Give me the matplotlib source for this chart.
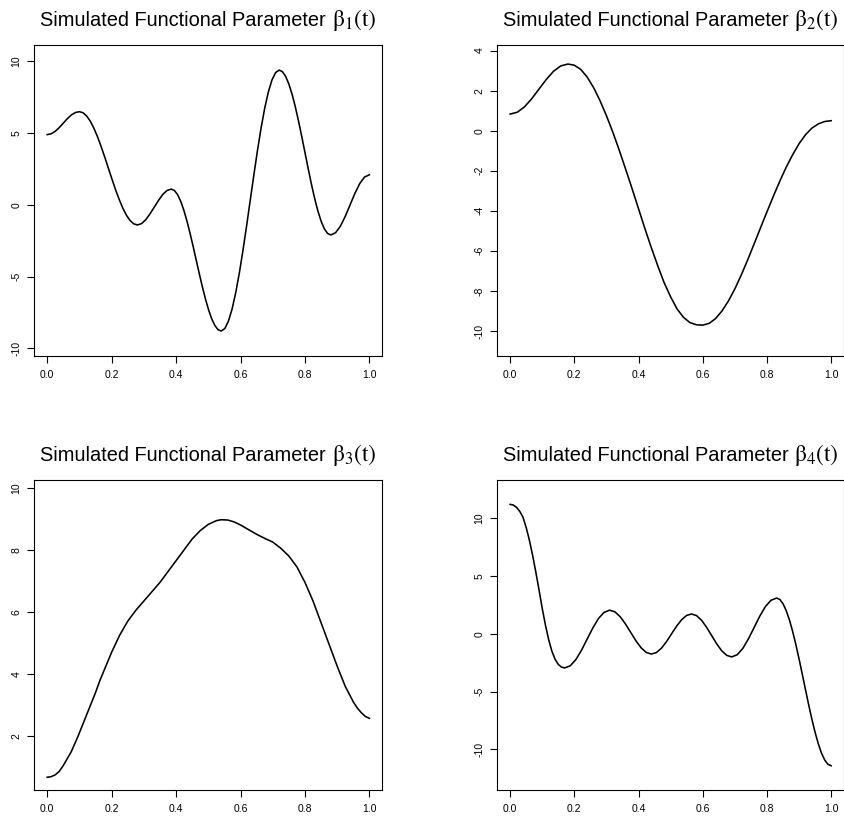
import matplotlib
matplotlib.use("Agg")
import matplotlib.pyplot as plt
from matplotlib.offsetbox import TextArea, HPacker, AnchoredOffsetbox

plt.rcParams['font.family'] = ['Liberation Sans', 'DejaVu Sans']
plt.rcParams['mathtext.fontset'] = 'stix'

# ---------------- data ----------------
t1 = [0, 0.0125, 0.025, 0.0375, 0.05, 0.0625, 0.075, 0.0875, 0.1,
      0.1113, 0.1225, 0.1338, 0.145, 0.1563, 0.1675, 0.1788, 0.19,
      0.2013, 0.2125, 0.2238, 0.235, 0.2463, 0.2575, 0.2688, 0.28,
      0.293, 0.306, 0.319, 0.3325, 0.346, 0.359, 0.372, 0.385,
      0.3947, 0.4044, 0.4141, 0.4238, 0.4334, 0.4431, 0.4528, 0.4625,
      0.4722, 0.4819, 0.4916, 0.5013, 0.5109, 0.5206, 0.5303, 0.54,
      0.5513, 0.5625, 0.5738, 0.585, 0.5963, 0.6075, 0.6188, 0.63,
      0.6413, 0.6525, 0.6638, 0.675, 0.6863, 0.6975, 0.7088, 0.72,
      0.73, 0.74, 0.75, 0.76, 0.77, 0.78, 0.79, 0.80,
      0.81, 0.82, 0.83, 0.84, 0.85, 0.86, 0.87, 0.88,
      0.895, 0.91, 0.925, 0.94, 0.955, 0.97, 0.985, 1.0]
b1 = [4.9, 4.96, 5.13, 5.39, 5.70, 6.01, 6.27, 6.44, 6.5,
      6.424, 6.199, 5.834, 5.343, 4.745, 4.061, 3.320, 2.55,
      1.780, 1.039, 0.355, -0.243, -0.734, -1.099, -1.324, -1.4,
      -1.305, -1.035, -0.628, -0.15, 0.328, 0.735, 1.005, 1.1,
      1.005, 0.723, 0.265, -0.349, -1.100, -1.956, -2.885, -3.85,
      -4.815, -5.744, -6.600, -7.351, -7.965, -8.423, -8.705, -8.8,
      -8.625, -8.107, -7.266, -6.136, -4.756, -3.182, -1.475, 0.3,
      2.075, 3.782, 5.356, 6.736, 7.866, 8.707, 9.225, 9.4,
      9.290, 8.962, 8.431, 7.717, 6.845, 5.850, 4.771, 3.65,
      2.529, 1.450, 0.455, -0.416, -1.131, -1.662, -1.990, -2.1,
      -1.94, -1.487, -0.802, 0.0, 0.802, 1.487, 1.94, 2.1]

t2 = [0, 0.0225, 0.045, 0.0675, 0.09, 0.1125, 0.135, 0.1575, 0.18,
      0.20, 0.22, 0.24, 0.26, 0.28, 0.30, 0.32, 0.34, 0.36, 0.38, 0.40,
      0.42, 0.44, 0.46, 0.48, 0.50, 0.52, 0.54, 0.56, 0.58, 0.60,
      0.62, 0.64, 0.66, 0.68, 0.70, 0.72, 0.74, 0.76, 0.78, 0.80,
      0.82, 0.84, 0.86, 0.88, 0.90, 0.92, 0.94, 0.96, 0.98, 1.0]
b2 = [0.83, 0.925, 1.195, 1.603, 2.08, 2.558, 2.965, 3.235, 3.33,
      3.27, 3.06, 2.68, 2.15, 1.50, 0.75, -0.08, -0.98, -1.93, -2.9, -3.9,
      -4.9, -5.85, -6.75, -7.6, -8.3, -8.9, -9.32, -9.58, -9.69, -9.71,
      -9.62, -9.38, -9.0, -8.5, -7.9, -7.2, -6.45, -5.65, -4.85, -4.05,
      -3.27, -2.52, -1.82, -1.2, -0.65, -0.2, 0.13, 0.34, 0.46, 0.5]

t3 = [0, 0.0125, 0.025, 0.0375, 0.05, 0.075, 0.096, 0.125, 0.15, 0.164, 0.2,
      0.225, 0.25, 0.275, 0.3, 0.325, 0.35, 0.375, 0.4, 0.425, 0.45, 0.475,
      0.5, 0.525, 0.54, 0.56, 0.58, 0.6, 0.625, 0.65, 0.675, 0.7, 0.725,
      0.75, 0.775, 0.8, 0.825, 0.85, 0.875, 0.9, 0.925, 0.95, 0.9625,
      0.975, 0.9875, 1.0]
b3 = [0.67, 0.69, 0.75, 0.86, 1.05, 1.5, 2.0, 2.75, 3.4, 3.8, 4.7,
      5.25, 5.7, 6.05, 6.35, 6.65, 6.95, 7.3, 7.65, 8.0, 8.35, 8.62,
      8.82, 8.94, 8.97, 8.96, 8.9, 8.8, 8.65, 8.5, 8.37, 8.25, 8.05,
      7.8, 7.45, 6.95, 6.35, 5.65, 4.95, 4.25, 3.6, 3.1, 2.9,
      2.75, 2.63, 2.57]

t4 = [0, 0.01, 0.02, 0.03, 0.04, 0.05, 0.06, 0.07, 0.08, 0.09,
      0.10, 0.11, 0.12, 0.13, 0.14, 0.15, 0.16, 0.17,
      0.1875, 0.205, 0.2225, 0.24, 0.2575, 0.275, 0.2925, 0.31,
      0.3263, 0.3425, 0.3588, 0.375, 0.3913, 0.4075, 0.4238, 0.44,
      0.4556, 0.4713, 0.4869, 0.5025, 0.5181, 0.5338, 0.5494, 0.565,
      0.5806, 0.5963, 0.6119, 0.6275, 0.6431, 0.6588, 0.6744, 0.69,
      0.7075, 0.725, 0.7425, 0.76, 0.7775, 0.795, 0.8125, 0.83,
      0.84, 0.85, 0.86, 0.87, 0.88, 0.89, 0.90, 0.91, 0.92,
      0.93, 0.94, 0.95, 0.96, 0.97, 0.98, 0.99, 1.0]
b4 = [11.21, 11.15, 10.95, 10.6, 10.1, 9.2, 8.1, 6.8, 5.35, 3.8,
      2.2, 0.75, -0.5, -1.5, -2.2, -2.65, -2.88, -2.95,
      -2.76, -2.22, -1.405, -0.45, 0.505, 1.32, 1.86, 2.05,
      1.906, 1.495, 0.876, 0.15, -0.576, -1.195, -1.606, -1.75,
      -1.618, -1.243, -0.678, -0.015, 0.648, 1.213, 1.588, 1.72,
      1.579, 1.177, 0.571, -0.14, -0.851, -1.457, -1.859, -2.0,
      -1.806, -1.255, -0.424, 0.55, 1.524, 2.355, 2.906, 3.1,
      2.977, 2.609, 2.012, 1.205, 0.215, -0.924, -2.174, -3.491, -4.830,
      -6.146, -7.397, -8.535, -9.525, -10.333, -10.929, -11.297, -11.42]

title_text = 'Simulated Functional Parameter '
title_math = [r'$\mathrm{\beta_1(t)}$', r'$\mathrm{\beta_2(t)}$',
              r'$\mathrm{\beta_3(t)}$', r'$\mathrm{\beta_4(t)}$']
xticks = [0.0, 0.2, 0.4, 0.6, 0.8, 1.0]
yticks = [[-10, -5, 0, 5, 10],
          [-10, -8, -6, -4, -2, 0, 2, 4],
          [2, 4, 6, 8, 10],
          [-10, -5, 0, 5, 10]]
ylims = [(-10.54, 11.15), (-11.25, 4.28), (0.26, 10.25), (-13.52, 13.32)]
series = [(t1, b1), (t2, b2), (t3, b3), (t4, b4)]

# ---------------- figure ----------------
W, H = 845, 817
fig = plt.figure(figsize=(W / 100, H / 100), dpi=100)
fig.patch.set_facecolor('white')

# axes boxes in pixels: (left, top, right, bottom)
boxes = [(34.3, 45, 382.3, 356), (497.3, 45, 844, 356),
         (34.3, 480, 382.3, 790), (497.3, 480, 844, 790)]

for i, (l, tp, r, bt) in enumerate(boxes):
    ax = fig.add_axes([l / W, (H - bt) / H, (r - l) / W, (bt - tp) / H])
    t, b = series[i]
    ax.plot(t, b, color='black', lw=1.15)
    ax.set_xlim(-0.04, 1.04)
    ax.set_ylim(*ylims[i])
    ax.set_xticks(xticks)
    ax.set_xticklabels(['%.1f' % v for v in xticks])
    ax.set_yticks(yticks[i])
    ax.set_yticklabels([str(v) for v in yticks[i]], rotation=90, va='center')
    ax.tick_params(direction='out', length=4.8, width=0.8, labelsize=7.5,
                   colors='black')
    ax.tick_params(axis='x', pad=5.5)
    ax.tick_params(axis='y', pad=4.5)
    for s in ax.spines.values():
        s.set_linewidth(0.8)
        s.set_color('black')
    ta1 = TextArea(title_text, textprops=dict(fontsize=14.4, color='black'))
    ta2 = TextArea(title_math[i], textprops=dict(fontsize=17, color='black'))
    pk = HPacker(children=[ta1, ta2], align='baseline', pad=0, sep=0)
    hh = (bt - tp)
    anch = AnchoredOffsetbox(loc='lower center', child=pk, pad=0, borderpad=0,
                             frameon=False, bbox_to_anchor=(0.5, 1 + 12.0 / hh),
                             bbox_transform=ax.transAxes)
    ax.add_artist(anch)

fig.savefig('out.png', dpi=100, facecolor='white')
